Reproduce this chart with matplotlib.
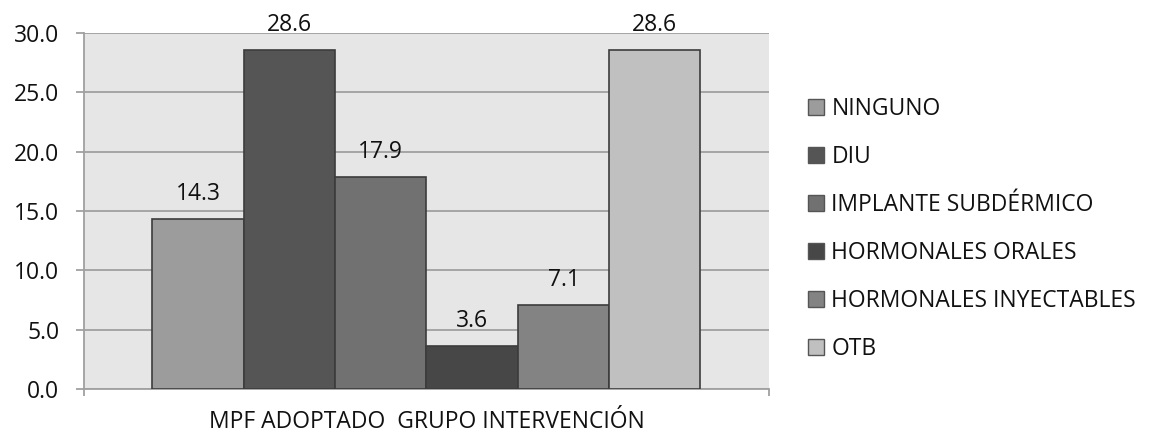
import matplotlib
matplotlib.use("Agg")
import matplotlib.pyplot as plt
import numpy as np

plt.rcParams['font.family'] = ['Open Sans', 'DejaVu Sans']

category = "MPF ADOPTADO  GRUPO INTERVENCIÓN"
series = ["NINGUNO", "DIU", "IMPLANTE SUBDÉRMICO", "HORMONALES ORALES",
          "HORMONALES INYECTABLES", "OTB"]
values = [14.3, 28.6, 17.9, 3.6, 7.1, 28.6]
colors = ["#9c9c9c", "#555555", "#717171", "#474747", "#838383", "#c0c0c0"]
yticks = [0, 5, 10, 15, 20, 25, 30]

FS = 16.5

fig = plt.figure(figsize=(11.5, 4.38), dpi=100)
ax = fig.add_axes([0.0730, 0.1119, 0.5957, 0.8128])
ax.set_facecolor("#e6e6e6")

n = len(values)
group_w = 0.8
bw = group_w / n
xs = -group_w / 2 + bw / 2 + np.arange(n) * bw
bars = []
for x, v, c, s in zip(xs, values, colors, series):
    b = ax.bar(x, v, width=bw, color=c, edgecolor="#3c3c3c", linewidth=1.2,
               label=s, zorder=3)
    bars.append(b)
    ax.annotate(f"{v:.1f}", (x, v), xytext=(0, 18), textcoords="offset points",
                ha="center", va="center", fontsize=FS, color="#111111",
                zorder=4)

ax.set_xlim(-0.5, 0.5)
ax.set_ylim(0, 30)
ax.set_yticks(yticks)
ax.set_yticklabels([f"{t:.1f}" for t in yticks], fontsize=FS, color="#111111")
ax.yaxis.grid(True, color="#a0a0a0", linewidth=1.3, zorder=1)
ax.set_axisbelow(True)
ax.tick_params(axis="y", length=5.8, width=1.3, color="#a0a0a0", pad=12)

ax.set_xticks([-0.5, 0.5])
ax.set_xticklabels(["", ""])
ax.tick_params(axis="x", length=5, width=1.3, color="#a0a0a0", direction="out")
ax.set_xticks([0], minor=True)
ax.set_xticklabels([category], minor=True, fontsize=FS, color="#111111")
ax.tick_params(axis="x", which="minor", length=0, pad=15)

for sp in ["top", "right"]:
    ax.spines[sp].set_visible(False)
for sp in ["left", "bottom"]:
    ax.spines[sp].set_color("#a0a0a0")
    ax.spines[sp].set_linewidth(1.3)

leg = fig.legend(handles=[b for b in bars], labels=series,
                 loc="center left", bbox_to_anchor=(0.695, 0.477),
                 frameon=False, fontsize=FS, handlelength=0.7,
                 handleheight=0.7, handletextpad=0.3, labelspacing=1.05,
                 borderaxespad=0)
for t in leg.get_texts():
    t.set_color("#111111")
for h in leg.legend_handles:
    h.set_linewidth(1.0)
    h.set_edgecolor("#555555")

fig.savefig("out.png", dpi=100)
